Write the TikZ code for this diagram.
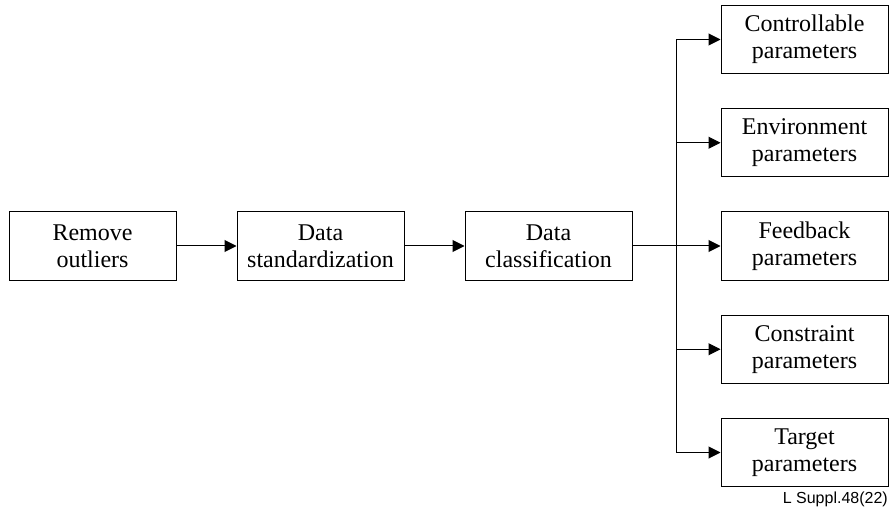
\documentclass[tikz,border=0pt]{standalone}
\usepackage{fontspec}
\setmainfont{Liberation Serif}
\newfontfamily\tagfont{Liberation Sans}
\usetikzlibrary{positioning,arrows.meta}
\tikzset{stage box/.style={draw=black, rectangle, line width=1pt, minimum width=167pt, minimum height=68pt, inner sep=0pt, align=center, font=\fontsize{24}{27}\selectfont}}
\tikzset{flow/.style={line width=1pt}}

\begin{document}
\begin{tikzpicture}[node distance=60pt, >={Triangle[length=12pt,width=12pt]}]
\useasboundingbox (0pt,0pt) rectangle (889pt,-513pt);
\node[stage box] (remove) at (92.5pt,-246pt) {Remove\\outliers};
\node[stage box, right=of remove] (standard) {Data\\standardization};
\node[stage box, right=of standard] (classify) {Data\\classification};
\node[stage box] (feedback) at (804.5pt,-246pt) {Feedback\\parameters};
\node[stage box, above=34.25pt of feedback] (environ) {Environment\\parameters};
\node[stage box, above=34.25pt of environ] (control) {Controllable\\parameters};
\node[stage box, below=34.25pt of feedback] (constraint) {Constraint\\parameters};
\node[stage box, below=34.25pt of constraint] (target) {Target\\parameters};
\node[anchor=east, inner sep=0pt, font=\tagfont\fontsize{16}{19}\selectfont] (tag) at (888pt,-499pt) {L Suppl.48(22)};
\coordinate (split) at (676pt,-246pt);
\draw[flow,->] (remove) -- (standard);
\draw[flow,->] (standard) -- (classify);
\draw[flow,->] (classify) -- (feedback);
\draw[flow,->] (split) |- (control);
\draw[flow,->] (split) |- (environ);
\draw[flow,->] (split) |- (constraint);
\draw[flow,->] (split) |- (target);
\end{tikzpicture}
\end{document}
